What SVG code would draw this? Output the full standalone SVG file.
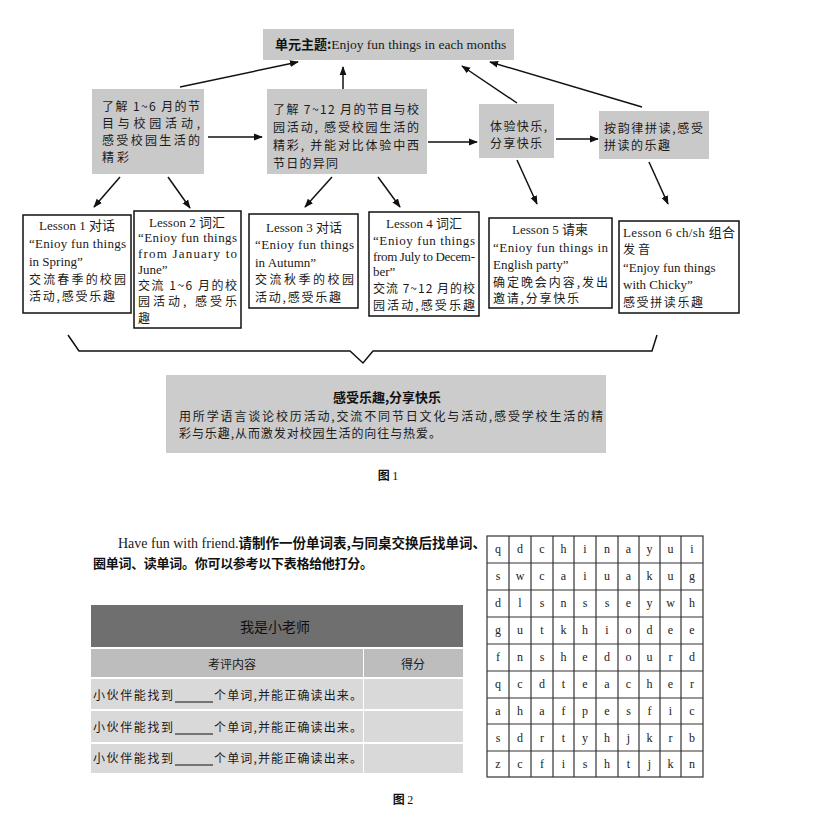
<svg xmlns="http://www.w3.org/2000/svg" width="830" height="814" viewBox="0 0 830 814">
<style>
.bg{fill:#ffffff}
.gbox{fill:#c9c9c9}
.lbox{fill:#ffffff;stroke:#111;stroke-width:1.5}
.t{font-family:"Liberation Serif","Noto Sans CJK SC",serif;font-size:13px;fill:#1a1a1a}
.c{font-family:"Noto Sans CJK SC",sans-serif;font-size:12px;fill:#1a1a1a}
.b{font-family:"Noto Sans CJK SC",sans-serif;font-weight:bold;font-size:13px;fill:#111}
.mid{text-anchor:middle}
.conn line{stroke:#111;stroke-width:1.5;marker-end:url(#ah)}
.grid line{stroke:#333;stroke-width:1.2}
.g{font-family:"Liberation Serif",serif;font-size:12px;fill:#222;text-anchor:middle}
</style>
<defs>
<marker id="ah" viewBox="0 0 10 10" refX="9" refY="5" markerWidth="9" markerHeight="9" markerUnits="userSpaceOnUse" orient="auto">
<path d="M0,1.2 L10,5 L0,8.8 z" fill="#111"/>
</marker>
</defs>
<rect class="bg" x="0" y="0" width="830" height="814"/>

<g id="theme">
<rect class="gbox" x="263" y="29" width="251" height="31"/>
<text class="t" x="275" y="48.5" style="font-size:13.5px"><tspan class="b" style="font-size:13px">单元主题:</tspan>Enjoy fun things in each months</text>
</g>

<g id="nodeA">
<rect class="gbox" x="92" y="89" width="112" height="85"/>
<text class="c" x="102" y="110.5" textLength="98">了解 1~6 月的节</text>
<text class="c" x="102" y="127.5" textLength="98">目与校园活动,</text>
<text class="c" x="102" y="144.5" textLength="98">感受校园生活的</text>
<text class="c" x="102" y="161.5" textLength="27">精彩</text>
</g>

<g id="nodeB">
<rect class="gbox" x="267" y="89" width="160" height="85"/>
<text class="c" x="273" y="113.5" textLength="146">了解 7~12 月的节目与校</text>
<text class="c" x="273" y="131.5" textLength="146">园活动, 感受校园生活的</text>
<text class="c" x="273" y="149.5" textLength="146">精彩, 并能对比体验中西</text>
<text class="c" x="273" y="167.5" textLength="65">节日的异同</text>
</g>

<g id="nodeC">
<rect class="gbox" x="479" y="104" width="75" height="54"/>
<text class="c" x="490" y="130.5" textLength="57">体验快乐,</text>
<text class="c" x="490" y="147.5" textLength="52">分享快乐</text>
</g>

<g id="nodeD">
<rect class="gbox" x="599" y="111" width="110" height="48"/>
<text class="c" x="604" y="132.5" textLength="99">按韵律拼读,感受</text>
<text class="c" x="604" y="149.5" textLength="66">拼读的乐趣</text>
</g>

<g id="lesson1">
<rect class="lbox" x="23" y="215" width="108" height="98"/>
<text class="t mid" x="77" y="229.5">Lesson 1 对话</text>
<text class="t" x="29" y="247.5" textLength="97">“Enioy fun things</text>
<text class="t" x="29" y="266">in Spring”</text>
<text class="c" x="29" y="283.5" textLength="97">交流春季的校园</text>
<text class="c" x="29" y="300.5" textLength="86">活动,感受乐趣</text>
</g>

<g id="lesson2">
<rect class="lbox" x="134" y="211" width="107" height="117"/>
<text class="t mid" x="187" y="226.5">Lesson 2 词汇</text>
<text class="t" x="138" y="241.5" textLength="99">“Enioy fun things</text>
<text class="t" x="138" y="257.5" textLength="99">from January to</text>
<text class="t" x="138" y="273.5">June”</text>
<text class="c" x="138" y="289.5" textLength="99">交流 1~6 月的校</text>
<text class="c" x="138" y="306" textLength="99">园活动, 感受乐</text>
<text class="c" x="138" y="322.5">趣</text>
</g>

<g id="lesson3">
<rect class="lbox" x="249" y="214" width="109" height="94"/>
<text class="t mid" x="304" y="231.5">Lesson 3 对话</text>
<text class="t" x="255" y="248.5" textLength="99">“Enioy fun things</text>
<text class="t" x="255" y="266.5">in Autumn”</text>
<text class="c" x="255" y="283.5" textLength="99">交流秋季的校园</text>
<text class="c" x="255" y="301.5" textLength="86">活动,感受乐趣</text>
</g>

<g id="lesson4">
<rect class="lbox" x="369" y="212" width="110" height="104"/>
<text class="t mid" x="424" y="227.5">Lesson 4 词汇</text>
<text class="t" x="373" y="245" textLength="102">“Enioy fun things</text>
<text class="t" x="373" y="261" textLength="102">from July to Decem-</text>
<text class="t" x="373" y="276">ber”</text>
<text class="c" x="373" y="292.5" textLength="102">交流 7~12 月的校</text>
<text class="c" x="373" y="309.5" textLength="102">园活动,感受乐趣</text>
</g>

<g id="lesson5">
<rect class="lbox" x="489" y="218" width="123" height="90"/>
<text class="t mid" x="550" y="233.5">Lesson 5 请柬</text>
<text class="t" x="493" y="251.5" textLength="115">“Enioy fun things in</text>
<text class="t" x="493" y="268.5">English party”</text>
<text class="c" x="493" y="286.5" textLength="115">确定晚会内容,发出</text>
<text class="c" x="493" y="302.5" textLength="86">邀请,分享快乐</text>
</g>

<g id="lesson6">
<rect class="lbox" x="619" y="221" width="120" height="92"/>
<text class="t" x="623" y="236.5" textLength="112">Lesson 6 ch/sh 组合</text>
<text class="c" x="623" y="253.5" textLength="27">发音</text>
<text class="t" x="623" y="271.5">“Enjoy fun things</text>
<text class="t" x="623" y="288.5">with Chicky”</text>
<text class="c" x="623" y="306.5" textLength="80">感受拼读乐趣</text>
</g>

<g id="summary">
<path d="M68,335 L79,351 L350,351 L363,363 L373,351 L652,351 L657,335" fill="none" stroke="#111" stroke-width="1.5"/>
<rect x="166" y="375" width="440" height="78" fill="#cccccc"/>
<text class="b mid" x="387" y="402">感受乐趣,分享快乐</text>
<text class="c" x="179" y="421" textLength="424">用所学语言谈论校历活动,交流不同节日文化与活动,感受学校生活的精</text>
<text class="c" x="179" y="438" textLength="262">彩与乐趣,从而激发对校园生活的向往与热爱。</text>
</g>

<g id="fig1label">
<text class="b mid" x="388" y="480" style="font-size:12px">图 <tspan style="font-family:'Liberation Serif',serif;font-weight:normal">1</tspan></text>
</g>

<g class="conn" id="connectors">
<line x1="180" y1="87" x2="298" y2="62"/>
<line x1="343" y1="89" x2="343" y2="67"/>
<line x1="208" y1="137" x2="262" y2="137"/>
<line x1="428" y1="142" x2="477" y2="142"/>
<line x1="556" y1="139" x2="598" y2="139"/>
<line x1="517" y1="103" x2="462" y2="66"/>
<line x1="642" y1="107" x2="490" y2="62"/>
<line x1="517" y1="160" x2="537" y2="204"/>
<line x1="649" y1="162" x2="668" y2="204"/>
<line x1="120" y1="177" x2="94" y2="207"/>
<line x1="168" y1="177" x2="190" y2="208"/>
<line x1="332" y1="177" x2="305" y2="207"/>
<line x1="378" y1="177" x2="400" y2="207"/>
</g>

<g id="instruction">
<text class="t" x="118" y="547.5" style="font-size:14px">Have fun with friend.<tspan class="b" style="font-size:13.5px">请制作一份单词表,与同桌交换后找单词、</tspan></text>
<text class="b" x="93" y="567.5" textLength="280">圈单词、读单词。你可以参考以下表格给他打分。</text>
</g>

<g id="table">
<rect x="91" y="605" width="372" height="42" fill="#6f6f6f"/>
<text class="c mid" x="275" y="632" style="font-size:14px;fill:#111">我是小老师</text>
<rect x="91" y="649" width="272" height="28" fill="#bdbdbd"/>
<rect x="364" y="649" width="99" height="28" fill="#bdbdbd"/>
<text class="c mid" x="232" y="668.5">考评内容</text>
<text class="c mid" x="413" y="668.5">得分</text>
<rect x="91" y="679" width="272" height="30" fill="#d9d9d9"/>
<rect x="364" y="679" width="99" height="30" fill="#d9d9d9"/>
<rect x="91" y="711" width="272" height="31" fill="#d9d9d9"/>
<rect x="364" y="711" width="99" height="31" fill="#d9d9d9"/>
<rect x="91" y="744" width="272" height="29" fill="#d9d9d9"/>
<rect x="364" y="744" width="99" height="29" fill="#d9d9d9"/>
<text class="c" x="93" y="699.5" textLength="80">小伙伴能找到</text>
<text class="c" x="214" y="699.5" textLength="148">个单词,并能正确读出来。</text>
<line x1="175" y1="702" x2="213" y2="702" stroke="#111" stroke-width="1.2"/>
<text class="c" x="93" y="731.5" textLength="80">小伙伴能找到</text>
<text class="c" x="214" y="731.5" textLength="148">个单词,并能正确读出来。</text>
<line x1="175" y1="734" x2="213" y2="734" stroke="#111" stroke-width="1.2"/>
<text class="c" x="93" y="762.5" textLength="80">小伙伴能找到</text>
<text class="c" x="214" y="762.5" textLength="148">个单词,并能正确读出来。</text>
<line x1="175" y1="765" x2="213" y2="765" stroke="#111" stroke-width="1.2"/>
</g>

<g id="wordgrid">
<rect x="487" y="536" width="216" height="241" fill="#fff" stroke="#333" stroke-width="1.2"/>
<g class="grid">
<line x1="509" y1="536" x2="509" y2="777"/>
<line x1="531" y1="536" x2="531" y2="777"/>
<line x1="553" y1="536" x2="553" y2="777"/>
<line x1="574" y1="536" x2="574" y2="777"/>
<line x1="596" y1="536" x2="596" y2="777"/>
<line x1="618" y1="536" x2="618" y2="777"/>
<line x1="639" y1="536" x2="639" y2="777"/>
<line x1="660" y1="536" x2="660" y2="777"/>
<line x1="681" y1="536" x2="681" y2="777"/>
<line x1="487" y1="563" x2="703" y2="563"/>
<line x1="487" y1="590" x2="703" y2="590"/>
<line x1="487" y1="617" x2="703" y2="617"/>
<line x1="487" y1="644" x2="703" y2="644"/>
<line x1="487" y1="671" x2="703" y2="671"/>
<line x1="487" y1="698" x2="703" y2="698"/>
<line x1="487" y1="724" x2="703" y2="724"/>
<line x1="487" y1="751" x2="703" y2="751"/>
</g>
<text class="g" y="553"><tspan x="498">q</tspan><tspan x="520">d</tspan><tspan x="542">c</tspan><tspan x="563.5">h</tspan><tspan x="585">i</tspan><tspan x="607">n</tspan><tspan x="628.5">a</tspan><tspan x="649.5">y</tspan><tspan x="670.5">u</tspan><tspan x="692">i</tspan></text>
<text class="g" y="580"><tspan x="498">s</tspan><tspan x="520">w</tspan><tspan x="542">c</tspan><tspan x="563.5">a</tspan><tspan x="585">i</tspan><tspan x="607">u</tspan><tspan x="628.5">a</tspan><tspan x="649.5">k</tspan><tspan x="670.5">u</tspan><tspan x="692">g</tspan></text>
<text class="g" y="607"><tspan x="498">d</tspan><tspan x="520">l</tspan><tspan x="542">s</tspan><tspan x="563.5">n</tspan><tspan x="585">s</tspan><tspan x="607">s</tspan><tspan x="628.5">e</tspan><tspan x="649.5">y</tspan><tspan x="670.5">w</tspan><tspan x="692">h</tspan></text>
<text class="g" y="634"><tspan x="498">g</tspan><tspan x="520">u</tspan><tspan x="542">t</tspan><tspan x="563.5">k</tspan><tspan x="585">h</tspan><tspan x="607">i</tspan><tspan x="628.5">o</tspan><tspan x="649.5">d</tspan><tspan x="670.5">e</tspan><tspan x="692">e</tspan></text>
<text class="g" y="661"><tspan x="498">f</tspan><tspan x="520">n</tspan><tspan x="542">s</tspan><tspan x="563.5">h</tspan><tspan x="585">e</tspan><tspan x="607">d</tspan><tspan x="628.5">o</tspan><tspan x="649.5">u</tspan><tspan x="670.5">r</tspan><tspan x="692">d</tspan></text>
<text class="g" y="688"><tspan x="498">q</tspan><tspan x="520">c</tspan><tspan x="542">d</tspan><tspan x="563.5">t</tspan><tspan x="585">e</tspan><tspan x="607">a</tspan><tspan x="628.5">c</tspan><tspan x="649.5">h</tspan><tspan x="670.5">e</tspan><tspan x="692">r</tspan></text>
<text class="g" y="715"><tspan x="498">a</tspan><tspan x="520">h</tspan><tspan x="542">a</tspan><tspan x="563.5">f</tspan><tspan x="585">p</tspan><tspan x="607">e</tspan><tspan x="628.5">s</tspan><tspan x="649.5">f</tspan><tspan x="670.5">i</tspan><tspan x="692">c</tspan></text>
<text class="g" y="741.5"><tspan x="498">s</tspan><tspan x="520">d</tspan><tspan x="542">r</tspan><tspan x="563.5">t</tspan><tspan x="585">y</tspan><tspan x="607">h</tspan><tspan x="628.5">j</tspan><tspan x="649.5">k</tspan><tspan x="670.5">r</tspan><tspan x="692">b</tspan></text>
<text class="g" y="768"><tspan x="498">z</tspan><tspan x="520">c</tspan><tspan x="542">f</tspan><tspan x="563.5">i</tspan><tspan x="585">s</tspan><tspan x="607">h</tspan><tspan x="628.5">t</tspan><tspan x="649.5">j</tspan><tspan x="670.5">k</tspan><tspan x="692">n</tspan></text>
</g>

<g id="fig2label">
<text class="b mid" x="403" y="804" style="font-size:12px">图 <tspan style="font-family:'Liberation Serif',serif;font-weight:normal">2</tspan></text>
</g>
</svg>
